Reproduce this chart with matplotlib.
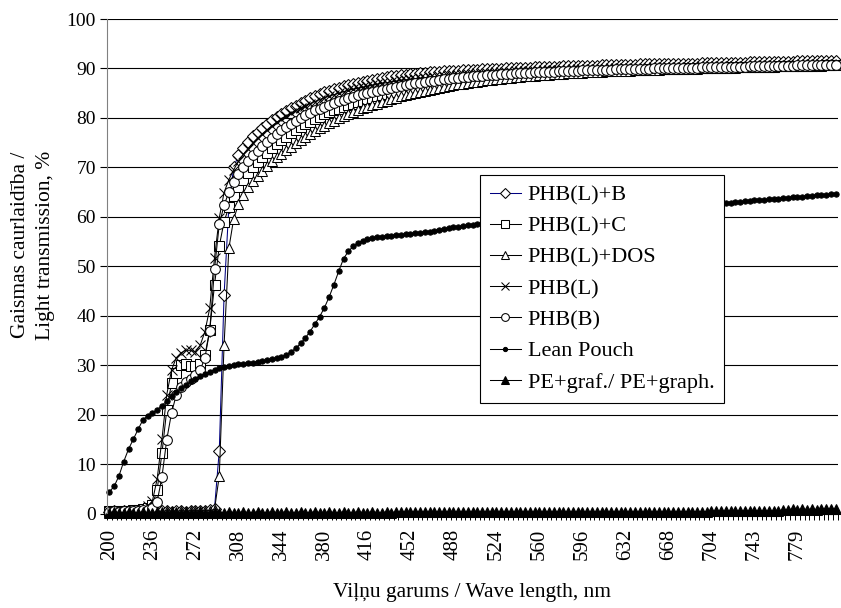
import numpy as np
import matplotlib
matplotlib.use("Agg")
import matplotlib.pyplot as plt
from matplotlib.ticker import FixedLocator

plt.rcParams['font.family'] = ['Liberation Serif', 'DejaVu Serif']

# category labels on the wave length axis (every 9th category is labelled)
tick_labels = ['200', '236', '272', '308', '344', '380', '416', '452', '488',
               '524', '560', '596', '632', '668', '704', '743', '779']

# transmission, %  (one value per category, 153 categories)
phb_l_b = [0.4, 0.5, 0.4, 0.5, 0.4, 0.5, 0.5, 0.4, 0.5, 0.5,
           0.4, 0.5, 0.5, 0.4, 0.5, 0.5, 0.4, 0.5, 0.5, 0.6,
           0.6, 0.7, 1.0, 12.7, 44.1, 62.0, 70.0, 72.4, 74.0, 75.2,
           76.3, 77.2, 78.0, 78.8, 79.5, 80.2, 80.8, 81.4, 82.0, 82.5,
           83.0, 83.5, 84.0, 84.4, 84.8, 85.2, 85.5, 85.8, 86.1, 86.4,
           86.7, 86.9, 87.1, 87.3, 87.5, 87.7, 87.9, 88.1, 88.3, 88.4,
           88.5, 88.6, 88.7, 88.8, 88.9, 89.0, 89.1, 89.2, 89.2, 89.3,
           89.4, 89.4, 89.5, 89.5, 89.6, 89.6, 89.7, 89.7, 89.8, 89.8,
           89.9, 89.9, 89.9, 90.0, 90.0, 90.0, 90.1, 90.1, 90.1, 90.2,
           90.2, 90.2, 90.3, 90.3, 90.3, 90.4, 90.4, 90.4, 90.4, 90.5,
           90.5, 90.5, 90.5, 90.6, 90.6, 90.6, 90.6, 90.7, 90.7, 90.7,
           90.7, 90.8, 90.8, 90.8, 90.8, 90.9, 90.9, 90.9, 90.9, 91.0,
           91.0, 91.0, 91.0, 91.0, 91.1, 91.1, 91.1, 91.1, 91.1, 91.2,
           91.2, 91.2, 91.2, 91.2, 91.3, 91.3, 91.3, 91.3, 91.3, 91.4,
           91.4, 91.4, 91.4, 91.4, 91.5, 91.5, 91.5, 91.5, 91.5, 91.6,
           91.6, 91.6, 91.6]

phb_l_c = [0.5, 0.6, 0.5, 0.6, 0.6, 0.7, 0.8, 0.9, 1.2, 1.8,
           4.8, 12.2, 20.9, 26.3, 28.5, 30.0, 30.2, 29.8, 29.8, 30.2,
           32.0, 37.1, 46.2, 54.1, 59.0, 62.0, 64.2, 66.0, 67.5, 68.8,
           70.0, 71.1, 72.1, 73.0, 73.9, 74.7, 75.5, 76.2, 76.9, 77.5,
           78.1, 78.7, 79.2, 79.7, 80.2, 80.7, 81.1, 81.5, 81.9, 82.3,
           82.6, 82.9, 83.2, 83.5, 83.8, 84.1, 84.4, 84.6, 84.9, 85.1,
           85.3, 85.5, 85.7, 85.9, 86.1, 86.3, 86.5, 86.6, 86.8, 86.9,
           87.1, 87.2, 87.4, 87.5, 87.6, 87.7, 87.8, 87.9, 88.0, 88.1,
           88.2, 88.3, 88.4, 88.5, 88.5, 88.6, 88.7, 88.7, 88.8, 88.9,
           88.9, 89.0, 89.0, 89.1, 89.1, 89.2, 89.2, 89.3, 89.3, 89.3,
           89.4, 89.4, 89.4, 89.5, 89.5, 89.5, 89.6, 89.6, 89.6, 89.7,
           89.7, 89.7, 89.7, 89.8, 89.8, 89.8, 89.8, 89.9, 89.9, 89.9,
           89.9, 90.0, 90.0, 90.0, 90.0, 90.1, 90.1, 90.1, 90.1, 90.1,
           90.2, 90.2, 90.2, 90.2, 90.2, 90.3, 90.3, 90.3, 90.3, 90.3,
           90.4, 90.4, 90.4, 90.4, 90.4, 90.5, 90.5, 90.5, 90.5, 90.5,
           90.6, 90.6, 90.6]

phb_l_dos = [0.3, 0.4, 0.3, 0.4, 0.3, 0.4, 0.4, 0.3, 0.4, 0.4,
             0.4, 0.4, 0.5, 0.4, 0.4, 0.5, 0.4, 0.5, 0.5, 0.5,
             0.5, 0.6, 0.8, 7.6, 34.0, 53.6, 59.5, 62.5, 64.5, 66.0,
             67.2, 68.3, 69.3, 70.3, 71.2, 72.0, 72.8, 73.5, 74.2, 74.9,
             75.6, 76.2, 76.8, 77.4, 77.9, 78.4, 78.9, 79.4, 79.9, 80.4,
             80.8, 81.2, 81.6, 82.0, 82.3, 82.6, 82.9, 83.2, 83.5, 83.8,
             84.1, 84.4, 84.7, 84.9, 85.1, 85.3, 85.5, 85.7, 85.9, 86.1,
             86.3, 86.5, 86.6, 86.8, 86.9, 87.1, 87.2, 87.3, 87.5, 87.6,
             87.7, 87.8, 87.9, 88.0, 88.1, 88.2, 88.3, 88.4, 88.4, 88.5,
             88.6, 88.7, 88.7, 88.8, 88.9, 88.9, 89.0, 89.0, 89.1, 89.1,
             89.2, 89.2, 89.3, 89.3, 89.4, 89.4, 89.4, 89.5, 89.5, 89.5,
             89.6, 89.6, 89.6, 89.7, 89.7, 89.7, 89.8, 89.8, 89.8, 89.8,
             89.9, 89.9, 89.9, 89.9, 90.0, 90.0, 90.0, 90.0, 90.1, 90.1,
             90.1, 90.1, 90.2, 90.2, 90.2, 90.2, 90.3, 90.3, 90.3, 90.3,
             90.4, 90.4, 90.4, 90.4, 90.5, 90.5, 90.5, 90.5, 90.6, 90.6,
             90.6, 90.6, 90.7]

phb_l = [0.5, 0.6, 0.5, 0.6, 0.6, 0.7, 0.8, 1.0, 1.5, 2.5,
         7.0, 15.0, 24.0, 29.0, 31.5, 32.5, 33.0, 33.0, 32.7, 34.0,
         36.8, 41.5, 51.7, 59.8, 64.9, 67.5, 69.5, 71.2, 72.6, 73.8,
         74.9, 75.9, 76.8, 77.6, 78.4, 79.1, 79.8, 80.4, 81.0, 81.5,
         82.0, 82.5, 82.9, 83.3, 83.7, 84.1, 84.4, 84.7, 85.0, 85.3,
         85.6, 85.8, 86.0, 86.2, 86.4, 86.6, 86.8, 87.0, 87.1, 87.3,
         87.4, 87.6, 87.7, 87.8, 87.9, 88.0, 88.1, 88.2, 88.3, 88.4,
         88.5, 88.6, 88.6, 88.7, 88.8, 88.8, 88.9, 89.0, 89.0, 89.1,
         89.1, 89.2, 89.2, 89.3, 89.3, 89.4, 89.4, 89.4, 89.5, 89.5,
         89.5, 89.6, 89.6, 89.6, 89.7, 89.7, 89.7, 89.8, 89.8, 89.8,
         89.8, 89.9, 89.9, 89.9, 89.9, 90.0, 90.0, 90.0, 90.0, 90.1,
         90.1, 90.1, 90.1, 90.1, 90.2, 90.2, 90.2, 90.2, 90.2, 90.3,
         90.3, 90.3, 90.3, 90.3, 90.4, 90.4, 90.4, 90.4, 90.4, 90.5,
         90.5, 90.5, 90.5, 90.5, 90.5, 90.6, 90.6, 90.6, 90.6, 90.6,
         90.7, 90.7, 90.7, 90.7, 90.7, 90.8, 90.8, 90.8, 90.8, 90.8,
         90.9, 90.9, 90.9]

phb_b = [0.4, 0.5, 0.4, 0.5, 0.5, 0.5, 0.6, 0.7, 0.8, 1.2,
         2.4, 7.4, 14.9, 20.3, 24.0, 25.5, 26.5, 27.3, 28.0, 29.0,
         31.5, 37.0, 49.4, 58.5, 62.3, 65.0, 67.0, 68.7, 70.1, 71.3,
         72.4, 73.4, 74.3, 75.2, 76.0, 76.8, 77.5, 78.2, 78.8, 79.4,
         80.0, 80.5, 81.0, 81.5, 81.9, 82.3, 82.7, 83.1, 83.4, 83.7,
         84.0, 84.3, 84.6, 84.8, 85.1, 85.3, 85.5, 85.7, 85.9, 86.1,
         86.3, 86.5, 86.7, 86.8, 87.0, 87.1, 87.3, 87.4, 87.5, 87.6,
         87.8, 87.9, 88.0, 88.1, 88.2, 88.3, 88.4, 88.4, 88.5, 88.6,
         88.7, 88.7, 88.8, 88.9, 88.9, 89.0, 89.0, 89.1, 89.1, 89.2,
         89.2, 89.3, 89.3, 89.3, 89.4, 89.4, 89.5, 89.5, 89.5, 89.6,
         89.6, 89.6, 89.7, 89.7, 89.7, 89.7, 89.8, 89.8, 89.8, 89.8,
         89.9, 89.9, 89.9, 89.9, 90.0, 90.0, 90.0, 90.0, 90.0, 90.1,
         90.1, 90.1, 90.1, 90.1, 90.2, 90.2, 90.2, 90.2, 90.2, 90.3,
         90.3, 90.3, 90.3, 90.3, 90.4, 90.4, 90.4, 90.4, 90.4, 90.5,
         90.5, 90.5, 90.5, 90.5, 90.6, 90.6, 90.6, 90.6, 90.6, 90.7,
         90.7, 90.7, 90.7]

lean_pouch = [4.4, 5.5, 7.6, 10.5, 13.0, 15.0, 17.0, 18.9, 19.8, 20.3,
              21.0, 21.8, 22.8, 23.8, 24.6, 25.4, 26.0, 26.7, 27.3, 27.8,
              28.3, 28.7, 29.1, 29.4, 29.6, 29.8, 30.0, 30.2, 30.3, 30.4,
              30.5, 30.7, 30.8, 31.0, 31.2, 31.4, 31.7, 32.1, 32.7, 33.4,
              34.4, 35.5, 36.8, 38.3, 39.8, 41.6, 43.8, 46.3, 49.0, 51.5,
              53.0, 54.0, 54.7, 55.2, 55.5, 55.7, 55.9, 56.0, 56.1, 56.2,
              56.3, 56.4, 56.5, 56.6, 56.7, 56.8, 56.9, 57.0, 57.2, 57.4,
              57.6, 57.7, 57.9, 58.0, 58.1, 58.3, 58.4, 58.6, 58.7, 58.8,
              58.9, 59.0, 59.0, 59.1, 59.2, 59.3, 59.4, 59.5, 59.5, 59.6,
              59.7, 59.8, 59.8, 59.9, 60.0, 60.1, 60.2, 60.2, 60.3, 60.4,
              60.5, 60.6, 60.6, 60.7, 60.8, 60.9, 61.0, 61.0, 61.1, 61.2,
              61.3, 61.3, 61.4, 61.5, 61.6, 61.6, 61.7, 61.8, 61.9, 61.9,
              62.0, 62.1, 62.2, 62.2, 62.3, 62.4, 62.4, 62.5, 62.6, 62.7,
              62.8, 62.9, 63.0, 63.1, 63.2, 63.3, 63.4, 63.4, 63.5, 63.6,
              63.7, 63.8, 63.9, 64.0, 64.1, 64.1, 64.2, 64.3, 64.4, 64.5,
              64.5, 64.6, 64.7]

pe_graph = [0.2, 0.3, 0.2, 0.2, 0.3, 0.2, 0.2, 0.3, 0.2, 0.2,
            0.3, 0.2, 0.2, 0.3, 0.2, 0.2, 0.3, 0.2, 0.2, 0.3,
            0.2, 0.2, 0.3, 0.2, 0.2, 0.3, 0.2, 0.2, 0.3, 0.2,
            0.2, 0.3, 0.2, 0.2, 0.3, 0.2, 0.2, 0.3, 0.2, 0.2,
            0.3, 0.2, 0.2, 0.3, 0.2, 0.2, 0.3, 0.2, 0.2, 0.3,
            0.2, 0.2, 0.3, 0.2, 0.2, 0.3, 0.2, 0.2, 0.3, 0.2,
            0.3, 0.3, 0.3, 0.3, 0.3, 0.3, 0.3, 0.3, 0.3, 0.3,
            0.3, 0.3, 0.3, 0.3, 0.3, 0.3, 0.3, 0.3, 0.3, 0.3,
            0.3, 0.3, 0.3, 0.3, 0.3, 0.3, 0.3, 0.3, 0.3, 0.3,
            0.3, 0.3, 0.3, 0.3, 0.3, 0.3, 0.3, 0.3, 0.3, 0.3,
            0.3, 0.3, 0.3, 0.3, 0.3, 0.3, 0.3, 0.3, 0.3, 0.3,
            0.3, 0.3, 0.3, 0.3, 0.3, 0.3, 0.3, 0.3, 0.3, 0.3,
            0.4, 0.4, 0.4, 0.4, 0.4, 0.4, 0.5, 0.5, 0.5, 0.5,
            0.5, 0.5, 0.5, 0.5, 0.5, 0.5, 0.5, 0.5, 0.5, 0.5,
            0.5, 0.8, 0.8, 0.9, 0.8, 0.9, 0.8, 0.9, 0.8, 0.9,
            0.9, 0.9, 0.9]

x = np.arange(len(phb_l_b))

fig = plt.figure(figsize=(8.41, 6.08), dpi=100)
ax = fig.add_axes([107/841, 94.5/608, 731/841, 494.5/608])

lw = 0.75
kw = dict(lw=lw, mew=0.75, clip_on=False)
ax.plot(x, phb_l_b, color='#000080', marker='D', ms=6.3, mfc='white', mec='black', label='PHB(L)+B', **kw)
ax.plot(x, phb_l_c, color='black', marker='s', ms=6.5, mfc='white', mec='black', label='PHB(L)+C', **kw)
ax.plot(x, phb_l_dos, color='black', marker='^', ms=7.5, mfc='white', mec='black', label='PHB(L)+DOS', **kw)
ax.plot(x, phb_l, color='black', marker='x', ms=7, mec='black', label='PHB(L)', **kw)
ax.plot(x, phb_b, color='black', marker='o', ms=7, mfc='white', mec='black', label='PHB(B)', **kw)
ax.plot(x, lean_pouch, color='black', marker='o', ms=3.8, mfc='black', mec='black', label='Lean Pouch', **kw)
ax.plot(x, pe_graph, color='black', marker='^', ms=6.5, mfc='black', mec='black', label='PE+graf./ PE+graph.', **kw)

ax.set_xlim(-0.5, len(x) - 0.5)
ax.set_ylim(0, 100)
ax.set_yticks(np.arange(0, 101, 10))
ax.yaxis.grid(True, color='black', lw=0.8)
ax.set_axisbelow(True)

ax.set_xticks(np.arange(0, len(x), 9))
ax.set_xticklabels(tick_labels, rotation=90, fontsize=15)
ax.xaxis.set_minor_locator(FixedLocator(np.arange(-0.5, len(x), 1)))
ax.tick_params(axis='x', which='major', length=0, pad=11)
ax.tick_params(axis='x', which='minor', length=4, width=0.7, direction='out')
ax.tick_params(axis='y', length=5, width=0.8, direction='out', labelsize=14, pad=3)

for s in ['top', 'right']:
    ax.spines[s].set_visible(False)
ax.spines['left'].set_color('#808080')
ax.spines['bottom'].set_color('black')

fig.text(472/841, 1 - 592/608, 'Viļņu garums / Wave length, nm', ha='center', va='center', fontsize=15.5)
fig.text(33/841, 1 - 245/608, 'Gaismas caurlaidība /\nLight transmission, %', ha='center', va='center',
         rotation=90, fontsize=15.5, linespacing=1.4)

leg = ax.legend(loc='upper left', bbox_to_anchor=(0.510, 0.685), fontsize=16, frameon=True,
                fancybox=False, framealpha=1, edgecolor='black', handlelength=1.4, handletextpad=0.3,
                labelspacing=0.48, borderpad=0.45, borderaxespad=0, markerscale=0.8)
leg.get_frame().set_linewidth(0.8)

fig.savefig('out.png', dpi=100)
